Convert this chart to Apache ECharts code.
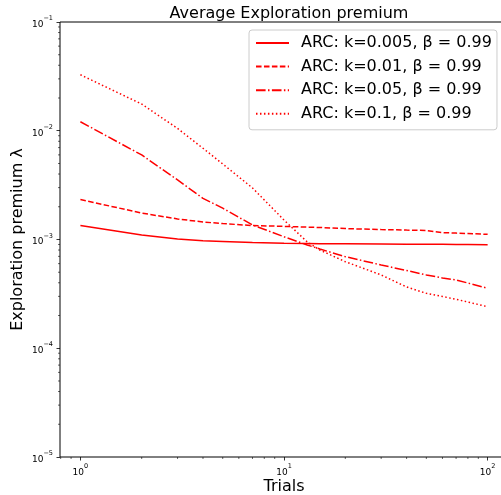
<!DOCTYPE html>
<html><head><meta charset="utf-8">
<script src="https://cdn.jsdelivr.net/npm/echarts@6/dist/echarts.min.js"></script>
<style>html,body{margin:0;padding:0;background:#fff}#c{width:501px;height:495px}</style>
</head><body><div id="c"></div>
<script>
// ---- data ----
const trials = [1, 2, 3, 4, 5, 7, 10, 13, 15, 20, 30, 40, 50, 60, 70, 80, 100];
const k0005 = [1.345e-3, 1.10e-3, 1.01e-3, 9.75e-4, 9.6e-4, 9.38e-4, 9.23e-4, 9.18e-4, 9.15e-4, 9.13e-4, 9.09e-4, 9.06e-4, 9.04e-4, 9.02e-4, 9.0e-4, 8.98e-4, 8.94e-4];
const k001 = [2.33e-3, 1.75e-3, 1.545e-3, 1.45e-3, 1.40e-3, 1.345e-3, 1.32e-3, 1.30e-3, 1.29e-3, 1.26e-3, 1.235e-3, 1.22e-3, 1.21e-3, 1.157e-3, 1.145e-3, 1.135e-3, 1.115e-3];
const k005 = [1.21e-2, 5.99e-3, 3.53e-3, 2.39e-3, 1.94e-3, 1.36e-3, 1.06e-3, 8.9e-4, 8.18e-4, 6.95e-4, 5.83e-4, 5.19e-4, 4.72e-4, 4.43e-4, 4.25e-4, 3.98e-4, 3.56e-4];
const k01 = [3.27e-2, 1.76e-2, 1.05e-2, 6.9e-3, 4.95e-3, 2.98e-3, 1.51e-3, 9.5e-4, 8.0e-4, 6.25e-4, 4.72e-4, 3.66e-4, 3.2e-4, 2.99e-4, 2.82e-4, 2.66e-4, 2.41e-4];
const seriesNames = ['ARC: k=0.005, \u03b2 = 0.99', 'ARC: k=0.01, \u03b2 = 0.99', 'ARC: k=0.05, \u03b2 = 0.99', 'ARC: k=0.1, \u03b2 = 0.99'];
const xMinorTicks = [0.8, 0.9, 2, 3, 4, 5, 6, 7, 8, 9, 20, 30, 40, 50, 60, 70, 80, 90];
const yMinorTicks = [2e-5, 3e-5, 4e-5, 5e-5, 6e-5, 7e-5, 8e-5, 9e-5, 2e-4, 3e-4, 4e-4, 5e-4, 6e-4, 7e-4, 8e-4, 9e-4, 2e-3, 3e-3, 4e-3, 5e-3, 6e-3, 7e-3, 8e-3, 9e-3, 2e-2, 3e-2, 4e-2, 5e-2, 6e-2, 7e-2, 8e-2, 9e-2];
const xRange = [0.794, 125.9];
const yRange = [1e-5, 1e-1];

const FONT = 'DejaVu Sans';
const dashes = ['solid', [5.55, 2.4], [9.6, 2.4, 1.5, 2.4], [1.5, 2.475]];
const allSeries = [k0005, k001, k005, k01];

function powLabel(v) {
  const e = Math.log10(v);
  const r = Math.round(e);
  if (Math.abs(e - r) > 1e-6) return '';
  const s = r < 0 ? '\u2212' + (-r) : '' + r;
  return '{b|10}{s|' + s + '}';
}
const rich = {
  b: {fontSize: 9, fontFamily: FONT, color: '#000', lineHeight: 14, verticalAlign: 'bottom'},
  s: {fontSize: 6.5, fontFamily: FONT, color: '#000', lineHeight: 8, verticalAlign: 'top'}
};

const chart = echarts.init(document.getElementById('c'), null, {renderer: 'canvas'});
const series = allSeries.map((arr, i) => ({
  name: seriesNames[i],
  type: 'line',
  data: trials.map((t, j) => [t, arr[j]]),
  symbol: 'none',
  smooth: false,
  color: '#ff0000',
  lineStyle: {color: '#ff0000', width: 1.5, type: dashes[i], cap: 'butt'},
  z: 3
}));
series.push({
  type: 'custom',
  coordinateSystem: 'cartesian2d',
  silent: true,
  clip: false,
  z: 5,
  data: xMinorTicks.map(v => [v, yRange[0], 0]).concat(yMinorTicks.map(v => [xRange[0], v, 1])),
  encode: {x: 0, y: 1},
  renderItem: (params, api) => {
    const p = api.coord([api.value(0), api.value(1)]);
    const horiz = api.value(2) === 1;
    return {
      type: 'line',
      shape: horiz ? {x1: p[0] - 2, y1: p[1], x2: p[0], y2: p[1]} : {x1: p[0], y1: p[1], x2: p[0], y2: p[1] + 2},
      style: {stroke: '#000', lineWidth: 0.6}
    };
  }
});

chart.setOption({
  animation: false,
  backgroundColor: '#fff',
  title: {
    text: 'Average Exploration premium',
    left: 284, top: 1, textAlign: 'center',
    textStyle: {fontSize: 16, fontWeight: 'normal', color: '#000', fontFamily: FONT}
  },
  grid: {left: 60, right: -7, top: 22, bottom: 38, containLabel: false, outerBoundsMode: 'none',
    show: true, borderColor: '#000', borderWidth: 1, backgroundColor: 'transparent'},
  legend: {
    data: seriesNames,
    orient: 'vertical',
    left: 249, top: 30,
    backgroundColor: 'rgba(255,255,255,0.8)',
    borderColor: '#cccccc', borderWidth: 1, borderRadius: 3,
    padding: [5, 5, 8, 6],
    itemWidth: 33, itemHeight: 16, itemGap: 7.6,
    itemStyle: {opacity: 0, borderWidth: 0},
    textStyle: {fontSize: 16, fontFamily: FONT, color: '#000', padding: [0, 0, 0, 7]}
  },
  xAxis: {
    type: 'log', logBase: 10, min: xRange[0], max: xRange[1],
    name: 'Trials', nameLocation: 'middle', nameGap: 22, nameMoveOverlap: false,
    nameTextStyle: {fontSize: 16, color: '#000', fontFamily: FONT},
    axisLine: {show: false},
    axisTick: {show: true, inside: false, length: 3.5, lineStyle: {color: '#000', width: 0.8}},
    axisLabel: {formatter: powLabel, rich: rich, margin: 6, showMinLabel: false, showMaxLabel: false},
    splitLine: {show: false}
  },
  yAxis: {
    type: 'log', logBase: 10, min: yRange[0], max: yRange[1],
    name: 'Exploration premium \u03bb', nameLocation: 'middle', nameGap: 34, nameMoveOverlap: false,
    nameTextStyle: {fontSize: 16, color: '#000', fontFamily: FONT},
    axisLine: {show: false},
    axisTick: {show: true, inside: false, length: 3.5, lineStyle: {color: '#000', width: 0.8}},
    axisLabel: {formatter: powLabel, rich: rich, margin: 7},
    splitLine: {show: false}
  },
  series: series
});
</script>
</body></html>
